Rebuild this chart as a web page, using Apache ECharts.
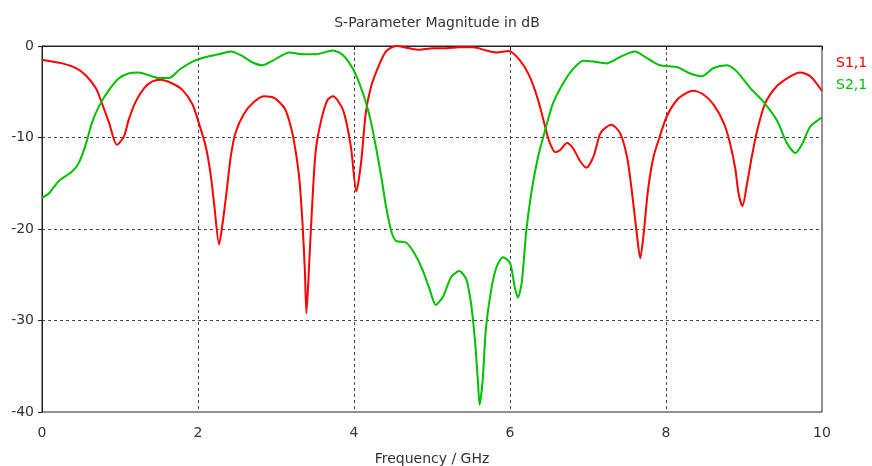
<!DOCTYPE html>
<html>
<head>
<meta charset="utf-8">
<script src="https://cdn.jsdelivr.net/npm/echarts@6/dist/echarts.min.js"></script>
<style>html,body{margin:0;padding:0;background:#fff}#c{width:872px;height:466px}</style>
</head>
<body>
<div id="c"></div>
<script>
// S1,1 trace (GHz, dB)
const s11Freq = [0,0.26,0.43,0.56,0.69,0.77,0.86,0.96,1.05,1.11,1.2,1.31,1.41,1.52,1.67,1.8,1.93,2.01,2.1,2.16,2.21,2.27,2.31,2.36,2.42,2.48,2.59,2.72,2.85,2.98,3.11,3.19,3.25,3.3,3.34,3.37,3.39,3.43,3.47,3.51,3.58,3.66,3.73,3.86,3.96,4.03,4.09,4.15,4.22,4.33,4.41,4.54,4.71,4.83,5.01,5.18,5.35,5.53,5.7,5.83,5.98,6.12,6.25,6.36,6.45,6.51,6.58,6.64,6.73,6.81,6.9,6.98,7.07,7.15,7.2,7.3,7.41,7.5,7.56,7.62,7.67,7.71,7.77,7.84,7.92,8.01,8.14,8.27,8.35,8.48,8.61,8.74,8.82,8.89,8.93,8.98,9.04,9.1,9.17,9.27,9.42,9.6,9.72,9.85,10];
const s11Db = [-1.5,-1.9,-2.4,-3.2,-4.6,-6.3,-8.4,-10.8,-9.9,-8.1,-6.1,-4.6,-3.9,-3.7,-4.1,-4.8,-6.4,-8.4,-11,-13.9,-17.5,-21.7,-19.7,-16.4,-12.1,-9.5,-7.4,-6.1,-5.5,-5.7,-6.8,-8.8,-11.4,-14.6,-19.4,-24.5,-29.2,-23,-16.4,-11.4,-8.1,-5.9,-5.5,-7,-11,-15.9,-12.8,-7.4,-4.4,-1.9,-0.6,0,-0.25,-0.4,-0.25,-0.25,-0.15,-0.15,-0.5,-0.7,-0.55,-1.5,-3.3,-5.9,-8.8,-10.6,-11.6,-11.4,-10.6,-11.2,-12.6,-13.3,-12.1,-9.7,-9.1,-8.6,-9.5,-12.1,-15.7,-20.1,-23.2,-20.8,-15.7,-12.1,-9.9,-7.7,-5.9,-5.1,-4.9,-5.3,-6.4,-8.4,-10.6,-13.5,-16.1,-17.5,-15,-12.1,-9.2,-6.3,-4.4,-3.3,-2.9,-3.3,-4.9];

// S2,1 trace (GHz, dB)
const s21Freq = [0,0.09,0.21,0.39,0.47,0.56,0.64,0.73,0.86,0.99,1.11,1.24,1.37,1.5,1.63,1.76,1.93,2.1,2.27,2.42,2.57,2.7,2.83,2.96,3.17,3.34,3.51,3.73,3.86,3.98,4.07,4.15,4.22,4.28,4.35,4.41,4.48,4.54,4.67,4.77,4.88,4.97,5.05,5.14,5.25,5.35,5.44,5.5,5.55,5.59,5.61,5.65,5.69,5.76,5.83,5.91,6,6.06,6.1,6.15,6.21,6.28,6.36,6.45,6.55,6.68,6.81,6.94,7.07,7.24,7.41,7.6,7.75,7.92,8.14,8.31,8.46,8.61,8.78,8.91,9.08,9.25,9.42,9.55,9.66,9.74,9.85,10];
const s21Db = [-16.6,-16.1,-14.8,-13.7,-12.8,-10.8,-8.4,-6.6,-4.8,-3.5,-3.0,-2.9,-3.2,-3.5,-3.5,-2.6,-1.7,-1.2,-0.9,-0.6,-1.1,-1.8,-2.1,-1.6,-0.7,-0.9,-0.9,-0.5,-1,-2.4,-4.1,-6.1,-8.4,-11,-14.3,-17.5,-20.3,-21.3,-21.5,-22.6,-24.5,-26.6,-28.3,-27.4,-25.2,-24.6,-25.5,-28.1,-32.1,-36.8,-39.2,-36.5,-31,-26.6,-24.1,-23.1,-23.7,-26.3,-27.5,-25.9,-20.1,-15.7,-12.1,-9.2,-6.3,-4.1,-2.5,-1.6,-1.7,-1.9,-1.2,-0.6,-1.3,-2.1,-2.3,-3,-3.3,-2.4,-2.1,-2.8,-4.6,-6.1,-8.1,-10.6,-11.7,-10.8,-8.8,-7.8];

const names = ["S1,1", "S2,1"];
const colors = ["#ff0000", "#00c000"];

const zip = (a, b) => a.map((v, i) => [v, b[i]]);
const font = "DejaVu Sans";
const fs = 14;
const dash = { color: "#444", type: [3, 3], width: 1 };

const chart = echarts.init(document.getElementById("c"));
chart.setOption({
  animation: false,
  title: { text: "S-Parameter Magnitude in dB", left: 432, top: 11, textAlign: "center",
    textStyle: { fontFamily: font, fontSize: fs, fontWeight: "normal", color: "#333" } },
  legend: { orient: "vertical", left: 826, top: 51, icon: "none", itemWidth: 0, itemGap: 8,
    data: names.map((n, i) => ({ name: n, textStyle: { color: colors[i] } })),
    textStyle: { fontFamily: font, fontSize: fs } },
  grid: { left: 42, right: 50, top: 46, bottom: 54, outerBoundsMode: "none",
    show: true, borderColor: "#222", borderWidth: 1 },
  xAxis: { type: "value", min: 0, max: 10, interval: 2, name: "Frequency / GHz",
    nameLocation: "middle", nameGap: 40,
    nameTextStyle: { fontFamily: font, fontSize: fs, color: "#333" },
    axisLine: { lineStyle: { color: "#222" } },
    axisTick: { length: 4, lineStyle: { color: "#222" } },
    axisLabel: { fontFamily: font, fontSize: fs, color: "#333", margin: 14 },
    splitLine: { show: true, showMinLine: false, showMaxLine: false, lineStyle: dash } },
  yAxis: { type: "value", min: -40, max: 0, interval: 10,
    axisLine: { show: true, lineStyle: { color: "#222" } },
    axisTick: { show: true, length: 4, lineStyle: { color: "#222" } },
    axisLabel: { fontFamily: font, fontSize: fs, color: "#333", margin: 8 },
    splitLine: { show: true, showMinLine: false, showMaxLine: false, lineStyle: dash } },
  series: [
    { name: names[0], type: "line", data: zip(s11Freq, s11Db), showSymbol: false, smooth: 0.25,
      lineStyle: { color: colors[0], width: 2 }, itemStyle: { color: colors[0] } },
    { name: names[1], type: "line", data: zip(s21Freq, s21Db), showSymbol: false, smooth: 0.25,
      lineStyle: { color: colors[1], width: 2 }, itemStyle: { color: colors[1] } }
  ]
});
</script>
</body>
</html>
